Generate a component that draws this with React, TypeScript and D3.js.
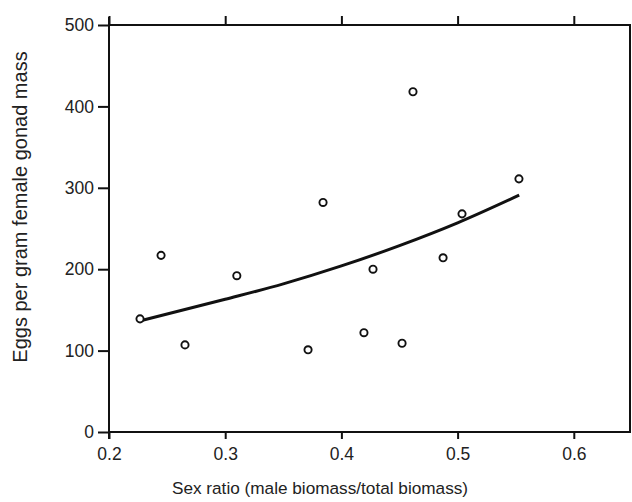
import React, { useEffect, useRef } from "react";
import * as d3 from "d3";

const sexRatio = [0.2267, 0.2448, 0.2654, 0.31, 0.3713, 0.3842, 0.4194, 0.4272, 0.4522, 0.4616, 0.4875, 0.5038, 0.5528];
const eggs = [139, 217, 107, 192, 101, 282, 122, 200, 109, 418, 214, 268, 311];
const fitX = [0.228, 0.3, 0.35, 0.4, 0.45, 0.5, 0.553];
const fitY = [137, 163, 182, 204, 229, 257, 291];
const xTicks = [0.2, 0.3, 0.4, 0.5, 0.6];
const yTicks = [0, 100, 200, 300, 400, 500];

export default function App() {
  const ref = useRef<SVGSVGElement>(null);
  useEffect(() => {
    const svg = d3.select(ref.current);
    svg.selectAll("*").remove();
    const left = 109, right = 630, top = 25, bottom = 432;
    const x = d3.scaleLinear().domain([0.2, 0.2 + (right - left) / 1162]).range([left, right]);
    const y = d3.scaleLinear().domain([0, 500]).range([bottom, top]);
    const font = "'Liberation Sans', Arial, sans-serif";
    const col = "#222";

    // border
    svg.append("rect").attr("x", left).attr("y", top).attr("width", right - left).attr("height", bottom - top)
      .attr("fill", "none").attr("stroke", "#111").attr("stroke-width", 2);

    const gl = svg.append("g").attr("transform", `translate(${left},0)`)
      .call(d3.axisLeft(y).tickValues(yTicks).tickSize(11).tickSizeOuter(0).tickPadding(4).tickFormat(d3.format("d")));
    const gb = svg.append("g").attr("transform", `translate(0,${bottom})`)
      .call(d3.axisBottom(x).tickValues(xTicks).tickSize(7).tickSizeOuter(0).tickPadding(9).tickFormat(d3.format(".1f")));
    const gt = svg.append("g").attr("transform", `translate(0,${top})`)
      .call(d3.axisTop(x).tickValues(xTicks).tickSize(9).tickSizeOuter(0).tickFormat(() => ""));
    [gl, gb, gt].forEach((g) => {
      g.select(".domain").remove();
      g.selectAll("line").attr("stroke", "#111").attr("stroke-width", 2);
      g.selectAll("text").attr("fill", col).style("font-family", font).style("font-size", "17.5px");
    });
    // extend left axis line upward
    svg.append("line").attr("x1", left).attr("x2", left).attr("y1", 17).attr("y2", bottom + 7)
      .attr("stroke", "#111").attr("stroke-width", 2);

    // fit curve
    const line = d3.line<number>().x((d, i) => x(fitX[i])).y((d) => y(d)).curve(d3.curveMonotoneX);
    svg.append("path").attr("d", line(fitY)).attr("fill", "none").attr("stroke", "#111").attr("stroke-width", 3);

    // points
    svg.append("g").selectAll("circle").data(eggs).join("circle")
      .attr("cx", (d, i) => x(sexRatio[i])).attr("cy", (d) => y(d)).attr("r", 3.6)
      .attr("fill", "white").attr("stroke", "#111").attr("stroke-width", 1.9);

    svg.append("text").attr("x", 320).attr("y", 494).attr("text-anchor", "middle")
      .attr("fill", col).style("font-family", font).style("font-size", "17.2px")
      .text("Sex ratio (male biomass/total biomass)");
    svg.append("text").attr("transform", "translate(27,207) rotate(-90)").attr("text-anchor", "middle")
      .attr("fill", col).style("font-family", font).style("font-size", "20px")
      .text("Eggs per gram female gonad mass");
  }, []);
  return (
    <svg ref={ref} width={632} height={502} style={{ position: "absolute", left: 0, top: 0, background: "white" }} />
  );
}
